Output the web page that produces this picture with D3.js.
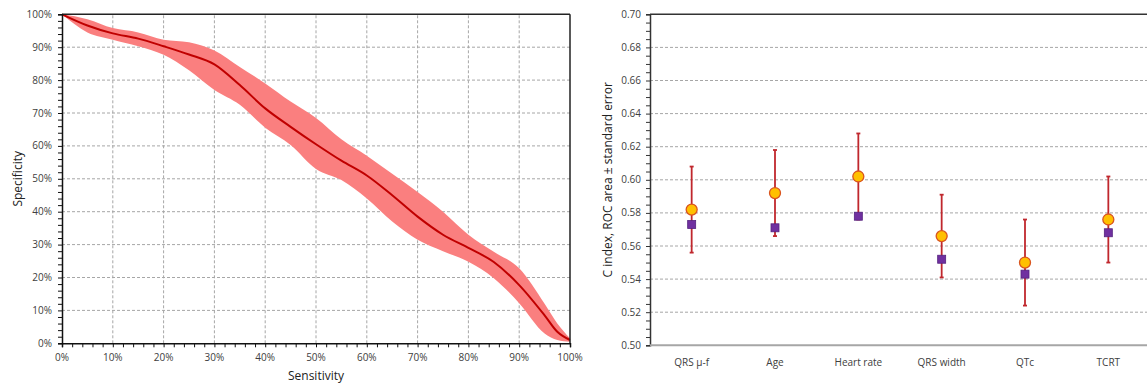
<!DOCTYPE html>
<html>
<head>
<meta charset="utf-8">
<script src="https://cdn.jsdelivr.net/npm/d3@7"></script>
<style>
  body { margin: 0; background: #fff; }
  svg { display: block; font-family: "Open Sans", "Noto Sans", sans-serif; }
  .tick-label { font-size: 10px; fill: #404040; }
  .axis-title { font-size: 12px; fill: #222; }
  .grid { stroke: #a6a6a6; stroke-width: 1; stroke-dasharray: 3,2; }
</style>
</head>
<body>
<div id="chart"></div>
<script>
// ROC curve (left panel), values in %
const sensitivity = [0, 5, 10, 15, 20, 25, 30, 35, 40, 45, 50, 55, 60, 65, 70, 75, 80, 85, 90, 95, 97.5, 100];
const specificity = [100, 96.6, 94.2, 92.6, 90.3, 87.8, 84.8, 78.5, 71.4, 65.8, 60.5, 55.5, 51, 45, 38.5, 33, 29, 24.7, 17.7, 8.5, 3.5, 1];
const specUpper   = [100, 98.5, 95.8, 94.5, 92.3, 91.5, 89, 84, 79, 73.5, 68.5, 62, 57, 51.5, 46, 40, 33, 27.8, 22.8, 12, 6, 1.5];
const specLower   = [100, 94.5, 92.3, 90.3, 87.7, 83, 77, 72.5, 65.5, 60.3, 53, 49.6, 44, 37, 31.5, 28, 24.8, 19.8, 12.2, 3, 1, 0.5];
const pctTicks = [0, 10, 20, 30, 40, 50, 60, 70, 80, 90, 100];

// C index / ROC area per predictor (right panel)
const categories = ["QRS \u03bc-f", "Age", "Heart rate", "QRS width", "QTc", "TCRT"];
const cIndex  = [0.582, 0.592, 0.602, 0.566, 0.550, 0.576];
const rocArea = [0.573, 0.571, 0.578, 0.552, 0.543, 0.568];
const stdErr  = [0.026, 0.026, 0.026, 0.025, 0.026, 0.026];
const cTicks = [0.50, 0.52, 0.54, 0.56, 0.58, 0.60, 0.62, 0.64, 0.66, 0.68, 0.70];

const W = 1147, H = 385;
const svg = d3.select("#chart").append("svg").attr("width", W).attr("height", H);

// ---------- left panel ----------
const lx = d3.scaleLinear().domain([0, 100]).range([62, 570]);
const ly = d3.scaleLinear().domain([0, 100]).range([343.3, 14.3]);
const left = svg.append("g");

// grid
left.selectAll(".gv").data(pctTicks.slice(1, -1)).enter().append("line")
  .attr("class", "grid")
  .attr("x1", d => lx(d)).attr("x2", d => lx(d))
  .attr("y1", ly(0)).attr("y2", ly(100));
left.selectAll(".gh").data(pctTicks.slice(1, -1)).enter().append("line")
  .attr("class", "grid")
  .attr("x1", lx(0)).attr("x2", lx(100))
  .attr("y1", d => ly(d)).attr("y2", d => ly(d));

const rocData = sensitivity.map((s, i) => ({s, v: specificity[i], hi: specUpper[i], lo: specLower[i]}));

const band = d3.area()
  .x(d => lx(d.s)).y0(d => ly(d.lo)).y1(d => ly(d.hi))
  .curve(d3.curveMonotoneX);
left.append("path").datum(rocData)
  .attr("d", band).attr("fill", "#fa7f7f");

const rocLine = d3.line()
  .x(d => lx(d.s)).y(d => ly(d.v))
  .curve(d3.curveMonotoneX);
left.append("path").datum(rocData)
  .attr("d", rocLine).attr("fill", "none")
  .attr("stroke", "#c00000").attr("stroke-width", 2);

// frame: top and right border
left.append("line").attr("x1", lx(0)).attr("x2", lx(100)).attr("y1", ly(100)).attr("y2", ly(100))
  .attr("stroke", "#222").attr("stroke-width", 1.5);
left.append("line").attr("x1", lx(100)).attr("x2", lx(100)).attr("y1", ly(100)).attr("y2", ly(0))
  .attr("stroke", "#222").attr("stroke-width", 1.5);

// axes
const lyAxis = left.append("g").attr("transform", `translate(${lx(0)},0)`)
  .call(d3.axisLeft(ly).tickValues(d3.range(0, 101, 2)).tickSize(4).tickFormat(""));
const lxAxis = left.append("g").attr("transform", `translate(0,${ly(0)})`)
  .call(d3.axisBottom(lx).tickValues(d3.range(0, 101, 2)).tickSize(4).tickFormat(""));
[lyAxis, lxAxis].forEach(a => {
  a.select(".domain").attr("stroke", "#111").attr("stroke-width", 1.5);
  a.selectAll(".tick line").attr("stroke", "#111");
});

left.selectAll(".ylab").data(pctTicks).enter().append("text")
  .attr("class", "tick-label")
  .attr("x", 52).attr("y", d => ly(d)).attr("dy", "0.35em")
  .attr("text-anchor", "end").text(d => d + "%");
left.selectAll(".xlab").data(pctTicks).enter().append("text")
  .attr("class", "tick-label")
  .attr("x", d => lx(d)).attr("y", 357).attr("dy", "0.35em")
  .attr("text-anchor", "middle").text(d => d + "%");

left.append("text").attr("class", "axis-title")
  .attr("x", lx(50)).attr("y", 376).attr("dy", "0.35em")
  .attr("text-anchor", "middle").text("Sensitivity");
left.append("text").attr("class", "axis-title")
  .attr("transform", `translate(18,${(ly(0) + ly(100)) / 2}) rotate(-90)`)
  .attr("dy", "0.35em").attr("text-anchor", "middle").text("Specificity");

// ---------- right panel ----------
const rx = d3.scaleBand().domain(categories).range([650, 1150]);
const ry = d3.scaleLinear().domain([0.5, 0.7]).range([345.3, 14.3]);
const right = svg.append("g");
const cx = c => rx(c) + rx.bandwidth() / 2;

right.selectAll(".gh").data(cTicks.slice(1, -1)).enter().append("line")
  .attr("class", "grid")
  .attr("x1", 650).attr("x2", W)
  .attr("y1", d => ry(d)).attr("y2", d => ry(d));

right.append("line").attr("x1", 650).attr("x2", W).attr("y1", ry(0.7)).attr("y2", ry(0.7))
  .attr("stroke", "#333").attr("stroke-width", 1.5);

const ryAxis = right.append("g").attr("transform", "translate(650,0)")
  .call(d3.axisLeft(ry).tickValues(d3.range(0, 41).map(i => 0.5 + i * 0.005)).tickSize(4).tickFormat(""));
ryAxis.select(".domain").attr("stroke", "#333").attr("stroke-width", 1.5);
ryAxis.selectAll(".tick line").attr("stroke", "#333");

right.append("line").attr("x1", 650).attr("x2", W).attr("y1", ry(0.5)).attr("y2", ry(0.5))
  .attr("stroke", "#a6a6a6").attr("stroke-width", 2);

right.selectAll(".ylab").data(cTicks).enter().append("text")
  .attr("class", "tick-label")
  .attr("x", 641).attr("y", d => ry(d)).attr("dy", "0.35em")
  .attr("text-anchor", "end").text(d => d.toFixed(2));
right.selectAll(".xlab").data(categories).enter().append("text")
  .attr("class", "tick-label")
  .attr("x", d => cx(d)).attr("y", 362).attr("dy", "0.35em")
  .attr("text-anchor", "middle").text(d => d);

right.append("text").attr("class", "axis-title")
  .attr("transform", `translate(608,${(ry(0.5) + ry(0.7)) / 2}) rotate(-90)`)
  .attr("dy", "0.35em").attr("text-anchor", "middle").text("C index, ROC area \u00b1 standard error");

const pts = categories.map((c, i) => ({c, ci: cIndex[i], roc: rocArea[i], se: stdErr[i]}));
const errColor = "#c0272d";

const eb = right.selectAll(".eb").data(pts).enter().append("g");
eb.append("line")
  .attr("x1", d => cx(d.c)).attr("x2", d => cx(d.c))
  .attr("y1", d => ry(d.ci + d.se)).attr("y2", d => ry(d.ci - d.se))
  .attr("stroke", errColor).attr("stroke-width", 1.8);
[1, -1].forEach(sgn => {
  eb.append("line")
    .attr("x1", d => cx(d.c) - 2).attr("x2", d => cx(d.c) + 2)
    .attr("y1", d => ry(d.ci + sgn * d.se)).attr("y2", d => ry(d.ci + sgn * d.se))
    .attr("stroke", errColor).attr("stroke-width", 1.8);
});

right.selectAll(".sq").data(pts).enter().append("rect")
  .attr("x", d => cx(d.c) - 4).attr("y", d => ry(d.roc) - 4)
  .attr("width", 8).attr("height", 8)
  .attr("fill", "#7030a0").attr("stroke", "#55237e").attr("stroke-width", 0.8);

right.selectAll(".dot").data(pts).enter().append("circle")
  .attr("cx", d => cx(d.c)).attr("cy", d => ry(d.ci))
  .attr("r", 5.5)
  .attr("fill", "#ffc000").attr("stroke", "#d9541e").attr("stroke-width", 1.3);
</script>
</body>
</html>
